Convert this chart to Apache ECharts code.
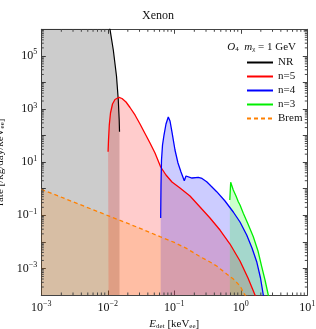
<!DOCTYPE html>
<html><head><meta charset="utf-8">
<script src="https://cdn.jsdelivr.net/npm/echarts@6/dist/echarts.min.js"></script>
<style>html,body{margin:0;padding:0;background:#fff}#c{width:316px;height:329px}</style>
</head><body><div id="c"></div>
<script>
// ---- data ----
const nrE   = [0.001, 0.008, 0.01079, 0.0121, 0.01351, 0.01438, 0.01484, 0.0150];
const nrRate= [1e9, 1e7, 1e6, 1.66e5, 1.75e4, 2183, 386, 140];

const n5E   = [0.0101, 0.01025, 0.01053, 0.01098, 0.01177, 0.01283, 0.01474, 0.01635, 0.01878, 0.02157, 0.02564, 0.0305, 0.03626, 0.04311, 0.05127, 0.06245, 0.075, 0.0923, 0.1218, 0.1722, 0.2435, 0.3441, 0.4866, 0.688, 0.973, 1.283, 1.635, 1.814];
const n5Rate= [24.7, 68, 250, 708, 1545, 2280, 2760, 2490, 1836, 1140, 596, 273, 120, 52.6, 22.1, 6.57, 3.28, 1.79, 1.06, 0.532, 0.205, 0.0791, 0.0279, 0.0083, 0.00191, 4.37e-4, 1e-4, 2.7e-5];

const n4E   = [0.0624, 0.0631, 0.0642, 0.0665, 0.07, 0.075, 0.0812, 0.0862, 0.0923, 0.1024, 0.1136, 0.1261, 0.1414, 0.15, 0.1607, 0.1846, 0.2296, 0.261, 0.3071, 0.3563, 0.4342, 0.5787, 0.771, 0.973, 1.227, 1.474, 1.734, 1.978, 2.179, 2.312];
const n4Rate= [0.079, 1.38, 12.0, 44.2, 105, 273, 500, 354, 136, 28.7, 9.29, 4.26, 2.0, 3.01, 2.64, 2.53, 2.69, 2.43, 1.84, 1.265, 0.773, 0.345, 0.133, 0.0559, 0.0181, 0.00587, 0.00179, 4.37e-4, 1e-4, 4.2e-5];

const n3E   = [0.6834, 0.6952, 0.7046, 0.771, 0.8469, 0.917, 0.973, 1.09, 1.283, 1.542, 1.814, 2.063, 2.312, 2.591, 2.749];
const n3Rate= [0.376, 0.895, 1.745, 0.895, 0.532, 0.324, 0.244, 0.119, 0.047, 0.0156, 0.00453, 0.00116, 3.67e-4, 1e-4, 4.2e-5];

const bremE   = [0.001, 0.01, 0.03, 0.061, 0.1, 0.15, 0.2435, 0.344, 0.434, 0.614, 0.771, 0.973, 1.157, 1.283];
const bremRate= [0.95, 0.098, 0.033, 0.0157, 0.0095, 0.0058, 0.0028, 0.00175, 0.00123, 0.00062, 0.0004, 0.00022, 1e-4, 4.2e-5];

const seriesNames = ['NR', 'n=5', 'n=4', 'n=3', 'Brem'];
const xTickExps = [-3, -2, -1, 0, 1];
const yLabelExps = [-3, -1, 1, 3, 5];
const xMin = 1e-3, xMax = 10, yMin = 1e-4, yMax = 1e6;

// ---- build ----
const FONT = 'Liberation Serif';
const zip = (a, b) => a.map((v, i) => [v, b[i]]);
const expLabel = e => '{b|10}{e|' + (e < 0 ? '\u2212' + (-e) : e) + '}';
const richTick = {
  b: {fontFamily: FONT, fontSize: 12, color: '#111'},
  e: {fontFamily: FONT, fontSize: 8, color: '#111', padding: [0, 0, 7, 0]}
};
function minorTicks(lo, hi) {
  const out = [];
  for (let d = lo; d < hi; d++) for (let k = 2; k <= 9; k++) out.push(k * Math.pow(10, d));
  return out;
}
const xMinor = minorTicks(-3, 1);
const yMinor = minorTicks(-4, 6);
const AX = '#444';

function mkLine(name, e, r, color, fill, dashed, width) {
  return {
    name, type: 'line', data: zip(e, r), showSymbol: false, symbol: 'none',
    clip: true, animation: false,
    lineStyle: {color, width: width || 1.3, type: dashed ? [4, 3] : 'solid'},
    itemStyle: {color},
    areaStyle: {color: fill, origin: 'start', opacity: 1}
  };
}

const chart = echarts.init(document.getElementById('c'), null, {renderer: 'canvas'});
const option = {
  animation: false,
  title: [
    {text: 'Xenon', left: 'center', top: 5, textStyle: {fontFamily: FONT, fontSize: 12, fontWeight: 'normal', color: '#111'}},
    {text: '{i|O}{s|4}  {i|m}{s|\u03c7} = 1 GeV', right: 15, top: 36,
     textStyle: {fontFamily: FONT, fontSize: 11, fontWeight: 'normal', color: '#111',
       rich: {i: {fontFamily: FONT, fontStyle: 'italic', fontSize: 11, color: '#111'},
              s: {fontFamily: FONT, fontSize: 7, color: '#111', padding: [5, 0, 0, 0]}}}}
  ],
  legend: {
    show: true,
    data: seriesNames, orient: 'vertical', left: 246, top: 57,
    itemWidth: 26, itemHeight: 10, itemGap: 3, padding: 0,
    itemStyle: {opacity: 0, borderWidth: 0},
    textStyle: {fontFamily: FONT, fontSize: 11, color: '#111'}
  },
  grid: {left: 41.3, right: 8.7, top: 29.3, bottom: 34, containLabel: false, outerBoundsMode: 'none'},
  xAxis: [
    {type: 'log', min: xMin, max: xMax, interval: 1, logBase: 10,
     name: '{it|E}{sb|det} [keV{sb|ee}]', nameLocation: 'middle', nameGap: 17,
     nameTextStyle: {fontFamily: FONT, fontSize: 11, color: '#111',
       rich: {it: {fontFamily: FONT, fontStyle: 'italic', fontSize: 11, color: '#111'},
              sb: {fontFamily: FONT, fontSize: 7, color: '#111', padding: [5, 0, 0, 0]}}},
     axisLine: {lineStyle: {color: AX, width: 1}},
     axisTick: {inside: true, length: 4.5, lineStyle: {color: AX}},
     axisLabel: {margin: 5, formatter: v => {const e = Math.round(Math.log10(v)); return xTickExps.includes(e) ? expLabel(e) : '';}, rich: richTick},
     splitLine: {show: false}},
    {type: 'log', min: xMin, max: xMax, interval: 1, logBase: 10, position: 'top',
     axisLine: {lineStyle: {color: AX, width: 1}},
     axisTick: {inside: true, length: 4.5, lineStyle: {color: AX}},
     axisLabel: {show: false}, splitLine: {show: false}}
  ],
  yAxis: [
    {type: 'log', min: yMin, max: yMax, interval: 1, logBase: 10,
     name: 'rate [/kg/day/keV{sb|ee}]', nameLocation: 'middle', nameGap: 25,
     nameTextStyle: {fontFamily: FONT, fontSize: 11, color: '#111',
       rich: {sb: {fontFamily: FONT, fontSize: 7, color: '#111', padding: [5, 0, 0, 0]}}},
     axisLine: {lineStyle: {color: AX, width: 1}},
     axisTick: {inside: true, length: 4.5, lineStyle: {color: AX}},
     axisLabel: {margin: 4, formatter: v => {const e = Math.round(Math.log10(v)); return yLabelExps.includes(e) ? expLabel(e) : '';}, rich: richTick},
     splitLine: {show: false}},
    {type: 'log', min: yMin, max: yMax, interval: 1, logBase: 10, position: 'right',
     axisLine: {lineStyle: {color: AX, width: 1}},
     axisTick: {inside: true, length: 4.5, lineStyle: {color: AX}},
     axisLabel: {show: false}, splitLine: {show: false}}
  ],
  series: [
    mkLine('NR', nrE, nrRate, '#000000', 'rgba(0,0,0,0.2)', false, 1.2),
    mkLine('n=5', n5E, n5Rate, '#ff0000', 'rgba(255,0,0,0.2)'),
    mkLine('n=4', n4E, n4Rate, '#0000ff', 'rgba(0,0,255,0.2)'),
    mkLine('n=3', n3E, n3Rate, '#00ee00', 'rgba(0,255,0,0.2)'),
    mkLine('Brem', bremE, bremRate, '#ff8000', 'rgba(255,128,0,0.2)', true),
    {type: 'custom', silent: true, animation: false, z: 10, data: xMinor.map(v => [v, 1]),
     renderItem: (params, api) => {
       const cs = params.coordSys; const x = api.coord([api.value(0), 1])[0];
       const b = cs.y + cs.height, t = cs.y;
       return {type: 'group', children: [
         {type: 'line', shape: {x1: x, y1: b, x2: x, y2: b - 2.5}, style: {stroke: AX, lineWidth: 1}},
         {type: 'line', shape: {x1: x, y1: t, x2: x, y2: t + 2.5}, style: {stroke: AX, lineWidth: 1}}]};
     }},
    {type: 'custom', silent: true, animation: false, z: 10, data: yMinor.map(v => [0.01, v]),
     renderItem: (params, api) => {
       const cs = params.coordSys; const y = api.coord([0.01, api.value(1)])[1];
       const l = cs.x, r = cs.x + cs.width;
       return {type: 'group', children: [
         {type: 'line', shape: {x1: l, y1: y, x2: l + 2.5, y2: y}, style: {stroke: AX, lineWidth: 1}},
         {type: 'line', shape: {x1: r, y1: y, x2: r - 2.5, y2: y}, style: {stroke: AX, lineWidth: 1}}]};
     }}
  ]
};
chart.setOption(option);
</script></body></html>
